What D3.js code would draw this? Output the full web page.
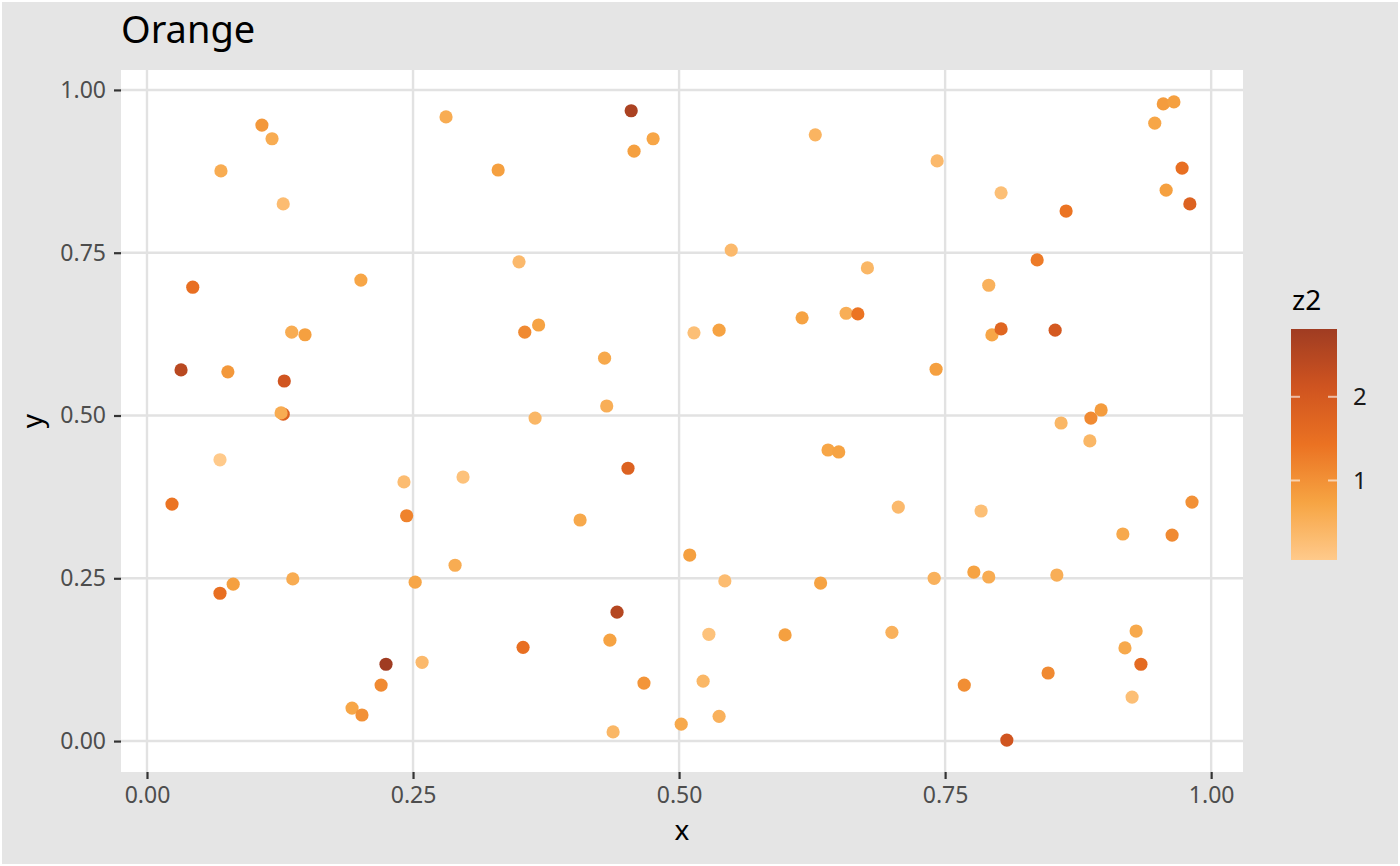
<!DOCTYPE html>
<html>
<head>
<meta charset="utf-8">
<script src="https://cdn.jsdelivr.net/npm/d3@7/dist/d3.min.js"></script>
<style>
  body { margin: 0; background: #fff; }
  svg { display: block; font-family: "Noto Sans", sans-serif; }
</style>
</head>
<body>
<svg id="chart" width="1400" height="866"></svg>
<script>
// values
const xs = [0.0695, 0.108, 0.1175, 0.128, 0.043, 0.032, 0.076, 0.136, 0.1485, 0.129,
  0.128, 0.126, 0.0686, 0.0235, 0.0686, 0.081, 0.137, 0.201, 0.281, 0.2415,
  0.244, 0.297, 0.2895, 0.252, 0.2585, 0.2246, 0.220, 0.1927, 0.202, 0.455,
  0.4756, 0.4577, 0.330, 0.628, 0.3496, 0.549, 0.677, 0.355, 0.368, 0.430,
  0.432, 0.3647, 0.514, 0.5376, 0.6156, 0.657, 0.668, 0.452, 0.407, 0.510,
  0.543, 0.640, 0.650, 0.633, 0.4417, 0.435, 0.3534, 0.528, 0.5996, 0.467,
  0.5226, 0.5376, 0.502, 0.438, 0.7425, 0.8026, 0.8637, 0.955, 0.965, 0.947,
  0.9727, 0.9577, 0.980, 0.8365, 0.791, 0.794, 0.8026, 0.8534, 0.7415, 0.859,
  0.8966, 0.887, 0.886, 0.706, 0.7838, 0.982, 0.917, 0.9633, 0.7397, 0.777,
  0.791, 0.855, 0.700, 0.9295, 0.919, 0.934, 0.8468, 0.768, 0.9257, 0.808];

const ys = [0.8756, 0.946, 0.925, 0.825, 0.697, 0.570, 0.567, 0.628, 0.624, 0.553,
  0.502, 0.504, 0.432, 0.364, 0.227, 0.241, 0.249, 0.708, 0.9585, 0.398,
  0.346, 0.4055, 0.270, 0.244, 0.121, 0.118, 0.086, 0.0507, 0.040, 0.968,
  0.925, 0.906, 0.877, 0.931, 0.736, 0.754, 0.7266, 0.628, 0.639, 0.588,
  0.5146, 0.496, 0.627, 0.631, 0.650, 0.657, 0.656, 0.419, 0.3395, 0.2857,
  0.246, 0.447, 0.444, 0.2427, 0.198, 0.155, 0.144, 0.164, 0.163, 0.089,
  0.092, 0.038, 0.026, 0.014, 0.891, 0.842, 0.814, 0.9785, 0.9816, 0.949,
  0.880, 0.846, 0.825, 0.739, 0.700, 0.6237, 0.633, 0.631, 0.571, 0.4885,
  0.5085, 0.496, 0.461, 0.3594, 0.3533, 0.367, 0.318, 0.3164, 0.250, 0.2596,
  0.252, 0.255, 0.167, 0.169, 0.143, 0.118, 0.1045, 0.086, 0.0676, 0.0015];

const z2 = [0.6, 0.9, 0.6, 0.3, 1.5, 2.45, 0.9, 0.6, 0.8, 2.1,
  1.8, 0.6, 0.05, 1.4, 1.5, 0.8, 0.6, 0.7, 0.6, 0.3,
  1.2, 0.2, 0.6, 0.7, 0.35, 2.81, 1.1, 0.7, 1.0, 2.65,
  0.7, 0.8, 0.8, 0.45, 0.35, 0.35, 0.4, 1.1, 0.75, 0.65,
  0.55, 0.4, 0.25, 0.75, 0.75, 0.55, 1.4, 1.8, 0.65, 0.8,
  0.3, 0.7, 0.75, 0.75, 2.5, 0.75, 1.5, 0.2, 0.8, 0.95,
  0.4, 0.5, 0.65, 0.4, 0.35, 0.25, 1.4, 0.85, 0.8, 0.7,
  1.5, 0.8, 1.8, 1.3, 0.5, 0.7, 1.7, 2.0, 0.8, 0.4,
  0.85, 1.1, 0.4, 0.35, 0.25, 1.0, 0.65, 1.1, 0.5, 0.75,
  0.6, 0.55, 0.5, 0.65, 0.65, 1.6, 1.1, 1.05, 0.25, 2.1];

const xTicks = [0, 0.25, 0.5, 0.75, 1];
const yTicks = [0, 0.25, 0.5, 0.75, 1];
const legendTicks = [1, 2];
const palette = ["#FFCA8B", "#F6A443", "#EB7222", "#CF5420", "#A03C22"];

const svg = d3.select("#chart");
const W = 1400, H = 866;
const panel = { left: 121, right: 1243, top: 70, bottom: 772 };

// ggplot-like 5% expansion of the data range
function expand(ext) {
  const pad = (ext[1] - ext[0]) * 0.05;
  return [ext[0] - pad, ext[1] + pad];
}

const x = d3.scaleLinear().domain(expand(d3.extent(xs))).range([panel.left, panel.right]);
const y = d3.scaleLinear().domain(expand(d3.extent(ys))).range([panel.bottom, panel.top]);
const zExt = d3.extent(z2);
const colour = d3.scaleSequential(d3.piecewise(d3.interpolateRgb, palette)).domain(zExt);

// backgrounds
svg.append("rect").attr("x", 1).attr("y", 1).attr("width", W - 2).attr("height", H - 2)
  .attr("fill", "#e5e5e5").attr("stroke", "#fff").attr("stroke-width", 2);
svg.append("rect").attr("x", panel.left).attr("y", panel.top)
  .attr("width", panel.right - panel.left).attr("height", panel.bottom - panel.top)
  .attr("fill", "#fff");

// grid
const grid = svg.append("g").attr("stroke", "#e2e2e2").attr("stroke-width", 2.4);
grid.selectAll(".gx").data(xTicks).join("line")
  .attr("x1", d => x(d)).attr("x2", d => x(d))
  .attr("y1", panel.top).attr("y2", panel.bottom);
grid.selectAll(".gy").data(yTicks).join("line")
  .attr("y1", d => y(d)).attr("y2", d => y(d))
  .attr("x1", panel.left).attr("x2", panel.right);

// axes
const fmt = d3.format(".2f");
const xAxis = svg.append("g")
  .attr("transform", `translate(0,${panel.bottom})`)
  .call(d3.axisBottom(x).tickValues(xTicks).tickFormat(fmt).tickSize(7).tickPadding(8));
const yAxis = svg.append("g")
  .attr("transform", `translate(${panel.left},0)`)
  .call(d3.axisLeft(y).tickValues(yTicks).tickFormat(fmt).tickSize(7).tickPadding(8));
[xAxis, yAxis].forEach(a => {
  a.select(".domain").remove();
  a.selectAll(".tick line").attr("stroke", "#333").attr("stroke-width", 2.2);
  a.selectAll(".tick text").attr("fill", "#4d4d4d")
    .style("font-size", "23px").style("font-family", "Noto Sans");
});

// points
svg.append("g").selectAll("circle")
  .data(xs.map((d, i) => ({ x: d, y: ys[i], z: z2[i] })))
  .join("circle")
  .attr("cx", d => x(d.x))
  .attr("cy", d => y(d.y))
  .attr("r", 6.6)
  .attr("fill", d => colour(d.z));

// titles
svg.append("text").attr("x", 121).attr("y", 43)
  .style("font-size", "38px").attr("fill", "#000").text("Orange");
svg.append("text").attr("x", (panel.left + panel.right) / 2).attr("y", 840)
  .attr("text-anchor", "middle").style("font-size", "28px").text("x");
svg.append("text")
  .attr("transform", `translate(42,${(panel.top + panel.bottom) / 2}) rotate(-90)`)
  .attr("text-anchor", "middle").style("font-size", "28px").text("y");

// colour bar legend
const bar = { x: 1291, y: 329, w: 46, h: 231 };
const lz = d3.scaleLinear().domain(zExt).range([bar.y + bar.h, bar.y]);
const grad = svg.append("defs").append("linearGradient")
  .attr("id", "zgrad").attr("x1", 0).attr("y1", 1).attr("x2", 0).attr("y2", 0);
grad.selectAll("stop").data(d3.range(0, 1.0001, 0.05)).join("stop")
  .attr("offset", d => d)
  .attr("stop-color", d => colour(zExt[0] + d * (zExt[1] - zExt[0])));
svg.append("rect").attr("x", bar.x).attr("y", bar.y).attr("width", bar.w).attr("height", bar.h)
  .attr("fill", "url(#zgrad)");
const lt = svg.append("g").attr("stroke", "#fff").attr("stroke-opacity", 0.6).attr("stroke-width", 2);
lt.selectAll(".l").data(legendTicks).join("line")
  .attr("x1", bar.x).attr("x2", bar.x + 9).attr("y1", d => lz(d)).attr("y2", d => lz(d));
lt.selectAll(".r").data(legendTicks).join("line")
  .attr("x1", bar.x + bar.w - 9).attr("x2", bar.x + bar.w).attr("y1", d => lz(d)).attr("y2", d => lz(d));
svg.append("g").selectAll("text").data(legendTicks).join("text")
  .attr("x", bar.x + bar.w + 16).attr("y", d => lz(d)).attr("dy", "0.36em")
  .style("font-size", "24px").attr("fill", "#1a1a1a").text(d => d);
svg.append("text").attr("x", bar.x + 1).attr("y", 310)
  .style("font-size", "28px").attr("fill", "#000").text("z2");
</script>
</body>
</html>
